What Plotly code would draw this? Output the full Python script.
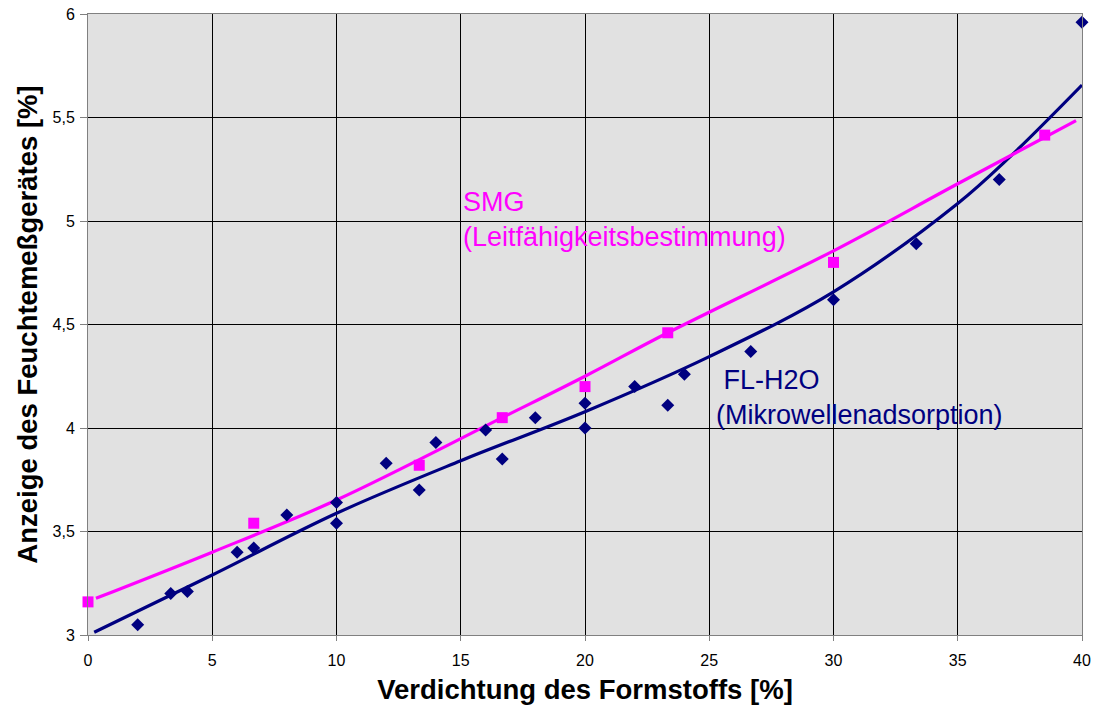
import plotly.graph_objects as go

# FL-H2O (Mikrowellenadsorption) measurements
fl_x = [2.0, 3.33, 4.0, 6.0, 6.67, 8.0, 10.0, 10.0, 12.0, 13.33, 14.0, 16.0, 16.67,
        18.0, 20.0, 20.0, 22.0, 23.33, 24.0, 26.67, 30.0, 33.33, 36.67, 40.0]
fl_y = [3.05, 3.20, 3.21, 3.40, 3.42, 3.58, 3.64, 3.54, 3.83, 3.70, 3.93, 3.99, 3.85,
        4.05, 4.12, 4.00, 4.20, 4.11, 4.26, 4.37, 4.62, 4.89, 5.20, 5.96]

# SMG (Leitfähigkeitsbestimmung) measurements
smg_x = [0.0, 6.67, 13.33, 16.67, 20.0, 23.33, 30.0, 38.5]
smg_y = [3.16, 3.54, 3.82, 4.05, 4.20, 4.46, 4.80, 5.415]

# trend lines
fl_trend_x = [0.25, 5, 10, 15, 20, 25, 30, 35, 37.1, 40]
fl_trend_y = [3.013, 3.29, 3.588, 3.842, 4.079, 4.345, 4.658, 5.085, 5.31, 5.657]
smg_trend_x = [0.32, 5, 10, 16.67, 20, 23.33, 30, 35, 39.76]
smg_trend_y = [3.177, 3.40, 3.652, 4.05, 4.25, 4.46, 4.856, 5.18, 5.485]

x_ticks = [0, 5, 10, 15, 20, 25, 30, 35, 40]
y_ticks = [3, 3.5, 4, 4.5, 5, 5.5, 6]

NAVY = "#000080"
MAGENTA = "#FF00FF"
FONT = "Liberation Sans, Arial, sans-serif"

fig = go.Figure()
fig.add_trace(go.Scatter(x=fl_trend_x, y=fl_trend_y, mode="lines", line_shape="spline",
                         line=dict(color=NAVY, width=3.2), showlegend=False, hoverinfo="skip"))
fig.add_trace(go.Scatter(x=smg_trend_x, y=smg_trend_y, mode="lines", line_shape="spline",
                         line=dict(color=MAGENTA, width=3.2), showlegend=False, hoverinfo="skip"))
fig.add_trace(go.Scatter(x=fl_x, y=fl_y, mode="markers", name="FL-H2O",
                         marker=dict(symbol="diamond", size=10, color=NAVY), showlegend=False,
                         cliponaxis=False))
fig.add_trace(go.Scatter(x=smg_x, y=smg_y, mode="markers", name="SMG",
                         marker=dict(symbol="square", size=11, color=MAGENTA), showlegend=False,
                         cliponaxis=False))

fig.add_annotation(x=15.0, y=5.005, xref="x", yref="y", xanchor="left", yanchor="middle",
                   text="SMG<br>(Leitfähigkeitsbestimmung)", showarrow=False, align="left",
                   font=dict(family=FONT, size=27, color=MAGENTA))
fig.add_annotation(x=25.21, y=4.145, xref="x", yref="y", xanchor="left", yanchor="middle",
                   text="&nbsp;FL-H2O<br>(Mikrowellenadsorption)", showarrow=False, align="left",
                   font=dict(family=FONT, size=27, color=NAVY))

fig.update_layout(
    width=1098, height=705,
    margin=dict(l=88, r=16, t=14, b=70),
    paper_bgcolor="white",
    plot_bgcolor="#E1E1E1",
    separators=", ",
    font=dict(family=FONT, size=16, color="black"),
    xaxis=dict(range=[0, 40], tickvals=x_ticks, ticks="outside", ticklen=5, tickcolor="#808080",
               ticklabelstandoff=6, ticklabeloverflow="allow",
               showgrid=True, gridcolor="black", gridwidth=1, zeroline=False,
               showline=True, linecolor="#808080", linewidth=1, mirror=True, automargin=False,
               title=dict(text="<b>Verdichtung des Formstoffs [%]</b>", font=dict(size=27.5), standoff=14),
               tickfont=dict(size=16)),
    yaxis=dict(range=[3, 6], tickvals=y_ticks, ticks="outside", ticklen=7, tickcolor="#808080",
               ticklabelstandoff=2, ticklabeloverflow="allow",
               showgrid=True, gridcolor="black", gridwidth=1, zeroline=False,
               showline=True, linecolor="#808080", linewidth=1, mirror=True, automargin=False,
               title=dict(text="<b>Anzeige des Feuchtemeßgerätes [%]</b>", font=dict(size=27.5), standoff=6),
               tickfont=dict(size=16)),
)

# remove the browser's default 8px body margin so the figure fills the window exactly
fig.write_html("out.html", config={"displayModeBar": False},
               post_script="document.body.style.margin='0';")
